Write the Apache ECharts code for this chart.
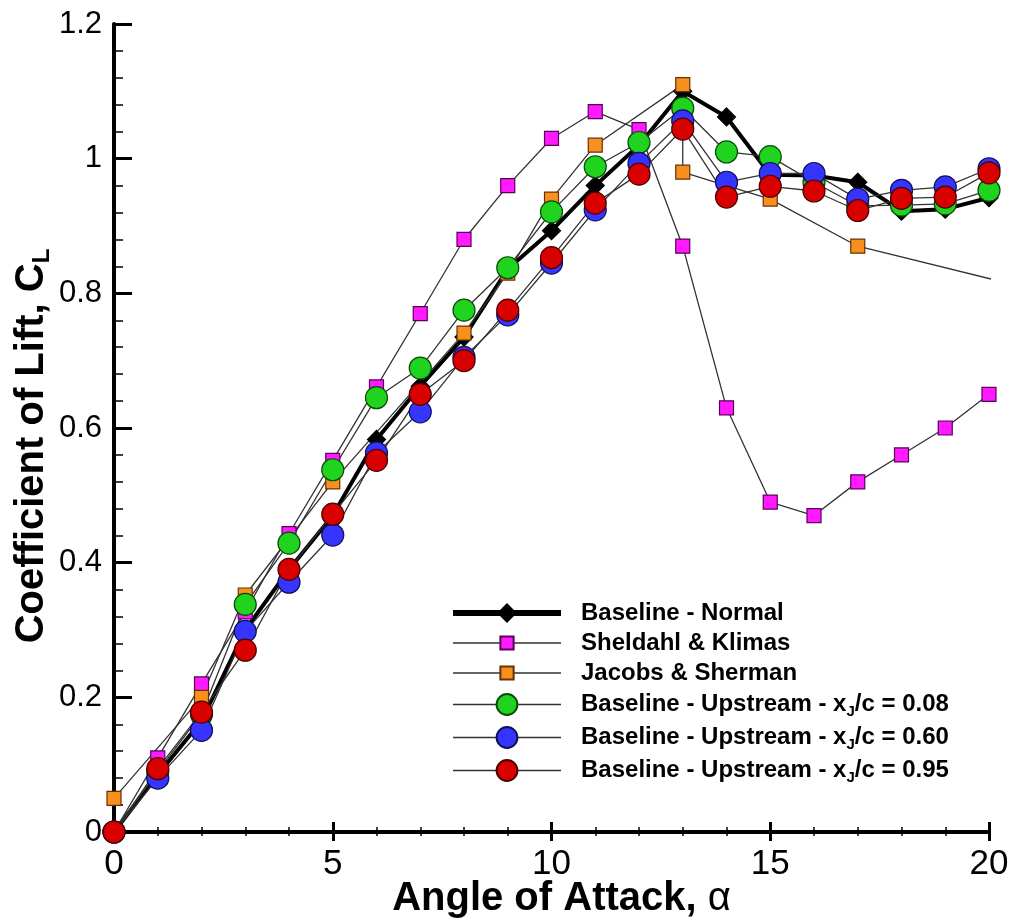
<!DOCTYPE html>
<html><head><meta charset="utf-8">
<script src="https://cdn.jsdelivr.net/npm/echarts@6/dist/echarts.min.js"></script>
<style>html,body{margin:0;padding:0;background:#fff}#c{width:1012px;height:922px}</style>
</head><body><div id="c"></div>
<script>
// ---- data ----
const angles = [0,1,2,3,4,5,6,7,8,9,10,11,12,13,14,15,16,17,18,19,20];
const baselineNormal = [0,0.085,0.165,0.30,0.39,0.47,0.583,0.662,0.735,0.836,0.893,0.960,1.020,1.100,1.062,0.976,0.975,0.965,0.922,0.925,0.942];
const sheldahlKlimas = [0,0.11,0.22,0.327,0.443,0.552,0.661,0.77,0.88,0.96,1.03,1.07,1.043,0.87,0.63,0.49,0.47,0.52,0.56,0.60,0.65];
const jacobsAngles = [0,2,3,5,8,9,10,11,13,13,15,17,22];
const jacobsSherman = [0.05,0.20,0.352,0.52,0.741,0.83,0.94,1.02,1.11,0.98,0.94,0.87,0.79];
const upstream008 = [0,0.09,0.175,0.338,0.429,0.538,0.645,0.689,0.775,0.838,0.921,0.988,1.024,1.075,1.01,1.003,0.965,0.93,0.931,0.933,0.953];
const upstream060 = [0,0.08,0.151,0.298,0.371,0.441,0.563,0.624,0.705,0.768,0.845,0.924,0.993,1.056,0.965,0.978,0.978,0.94,0.953,0.958,0.985];
const upstream095 = [0,0.094,0.178,0.27,0.39,0.472,0.552,0.65,0.70,0.775,0.853,0.934,0.977,1.044,0.943,0.959,0.952,0.923,0.941,0.943,0.979];
const seriesNames = ['Baseline - Normal','Sheldahl & Klimas','Jacobs & Sherman',
  'Baseline - Upstream - xJ/c = 0.08','Baseline - Upstream - xJ/c = 0.60','Baseline - Upstream - xJ/c = 0.95'];
const legendLabels = ['Baseline - Normal','Sheldahl & Klimas','Jacobs & Sherman',
  'Baseline - Upstream - x{sub|J}/c = 0.08','Baseline - Upstream - x{sub|J}/c = 0.60','Baseline - Upstream - x{sub|J}/c = 0.95'];
const xTicks = {min:0,max:20,interval:5};
const yTicks = {min:0,max:1.2,interval:0.2};

// ---- styling ----
const FONT = '"Liberation Sans", Arial, Helvetica, sans-serif';
const SQUARE = 'path://M0,0M22,22M4,4L18,4L18,18L4,18Z';
const DIAMOND = 'path://M0,0M22,22M11,2L20,11L11,20L2,11Z';
const pairs = (xs, ys) => xs.map((x,i)=>[x, ys[i]]);
const thin = {color:'#333', width:1.3};
function mk(name, xs, ys, symbol, size, fill, border, line){
  return {name, type:'line', data:pairs(xs,ys), symbol, symbolSize:size,
    itemStyle:{color:fill, borderColor:border, borderWidth:1.2, opacity:1},
    lineStyle:line, showAllSymbol:true, animation:false, emphasis:{disabled:true}, z:2};
}
const series = [
  mk(seriesNames[0], angles, baselineNormal, DIAMOND, 22, '#000', '#000', {color:'#000', width:4}),
  mk(seriesNames[1], angles, sheldahlKlimas, SQUARE, 22, '#ff1aff', '#5a005a', thin),
  mk(seriesNames[2], jacobsAngles, jacobsSherman, SQUARE, 22, '#f7901e', '#6a3000', thin),
  mk(seriesNames[3], angles, upstream008, 'circle', 22, '#1fd31f', '#0a4a0a', thin),
  mk(seriesNames[4], angles, upstream060, 'circle', 22, '#3535ff', '#10105a', thin),
  mk(seriesNames[5], angles, upstream095, 'circle', 22, '#d90000', '#4a0000', thin)
];

const chart = echarts.init(document.getElementById('c'), null, {renderer:'canvas'});
chart.setOption({
  animation:false,
  backgroundColor:'#fff',
  textStyle:{fontFamily:FONT},
  grid:{left:114, right:23, top:24, bottom:90, containLabel:false, outerBoundsMode:'none'},
  legend:{
    orient:'vertical', left:445, top:595, itemWidth:108, itemHeight:26, itemGap:4,
    selectedMode:false,
    data:seriesNames.map((n,i)=>({name:n, lineStyle: i===0 ? {width:6, color:'#000'} : {width:1.5, color:'#333'}})),
    formatter:(name)=>legendLabels[seriesNames.indexOf(name)],
    textStyle:{fontFamily:FONT, fontSize:24, fontWeight:'bold', color:'#000', lineHeight:26, padding:[0,0,0,15],
      rich:{sub:{fontFamily:FONT, fontSize:15, fontWeight:'bold', color:'#000', lineHeight:15, padding:[14,0,0,0]}}}
  },
  xAxis:[{
    type:'value', min:xTicks.min, max:xTicks.max, interval:xTicks.interval,
    axisLine:{show:true, onZero:false, lineStyle:{color:'#000', width:4}},
    axisTick:{show:true, inside:true, length:10, lineStyle:{color:'#000', width:3}},
    minorTick:{show:true, splitNumber:5, length:5, lineStyle:{color:'#000', width:1.5}},
    splitLine:{show:false},
    axisLabel:{fontFamily:FONT, fontSize:35, color:'#000', margin:15},
    name:'Angle of Attack, {a|α}', nameLocation:'middle', nameGap:47, nameMoveOverlap:false,
    nameTextStyle:{fontFamily:FONT, fontSize:40, fontWeight:'bold', color:'#000', padding:[0,0,0,20],
      rich:{a:{fontFamily:FONT, fontSize:40, fontWeight:'normal', color:'#000'}}}
  },{
    type:'value', position:'bottom', min:xTicks.min, max:xTicks.max, interval:xTicks.interval,
    axisLine:{show:false},
    axisTick:{show:true, inside:false, length:9, lineStyle:{color:'#000', width:3}},
    minorTick:{show:true, splitNumber:5, length:4, lineStyle:{color:'#000', width:1.5}},
    splitLine:{show:false}, axisLabel:{show:false}
  }],
  yAxis:{
    type:'value', min:yTicks.min, max:yTicks.max, interval:yTicks.interval,
    axisLine:{show:true, onZero:false, lineStyle:{color:'#000', width:4}},
    axisTick:{show:true, inside:true, length:18, lineStyle:{color:'#000', width:3}},
    minorTick:{show:true, splitNumber:5, length:9, lineStyle:{color:'#000', width:1.5}},
    splitLine:{show:false},
    axisLabel:{fontFamily:FONT, fontSize:31, color:'#000', margin:12},
    name:'Coefficient of Lift, C{sub|L}', nameLocation:'middle', nameGap:62, nameRotate:90, nameMoveOverlap:false,
    nameTextStyle:{fontFamily:FONT, fontSize:40, fontWeight:'bold', color:'#000', lineHeight:40, padding:[0,36,0,0],
      rich:{sub:{fontFamily:FONT, fontSize:24, fontWeight:'bold', color:'#000', lineHeight:24, padding:[20,0,0,0]}}}
  },
  series
});
</script>
</body></html>
